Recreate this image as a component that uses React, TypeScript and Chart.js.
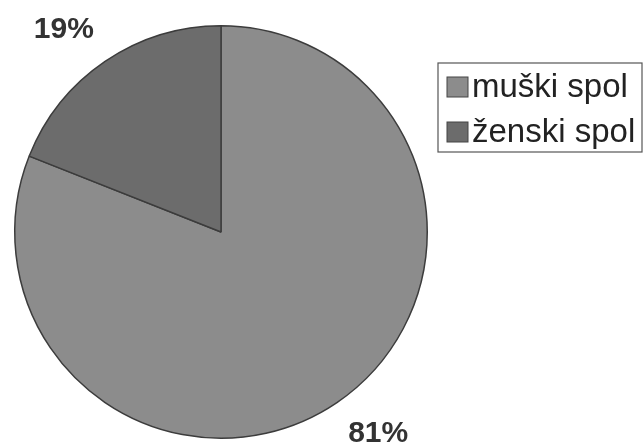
import React, { useEffect, useRef } from "react";
import { Chart, registerables } from "chart.js";

Chart.register(...registerables);

const categories = ["muški spol", "ženski spol"];
const shares = [81, 19];
const valueLabels = ["81%", "19%"];
const sliceColors = ["#8c8c8c", "#6c6c6c"];

const FONT = "'Liberation Sans', Arial, sans-serif";

const decorations = {
  id: "decorations",
  afterDraw(chart: any) {
    const ctx = chart.ctx as CanvasRenderingContext2D;
    const meta = chart.getDatasetMeta(0);
    // percentage labels outside the slices
    ctx.save();
    ctx.fillStyle = "#333";
    ctx.font = `bold 30px ${FONT}`;
    meta.data.forEach((arc: any, i: number) => {
      const mid = (arc.startAngle + arc.endAngle) / 2;
      const r = arc.outerRadius + 20;
      const c = Math.cos(mid);
      const s = Math.sin(mid);
      const x = arc.x + c * r;
      const y = arc.y + s * r;
      ctx.textAlign = c >= 0 ? "left" : "right";
      ctx.textBaseline = s >= 0 ? "top" : "bottom";
      ctx.fillText(valueLabels[i], x, y);
    });
    ctx.restore();

    // legend with border
    const lx = 438;
    const ly = 63;
    const lw = 204;
    const lh = 89;
    ctx.save();
    ctx.strokeStyle = "#555";
    ctx.lineWidth = 1.2;
    ctx.strokeRect(lx, ly, lw, lh);
    ctx.font = `33px ${FONT}`;
    ctx.textAlign = "left";
    ctx.textBaseline = "alphabetic";
    categories.forEach((name, i) => {
      const by = ly + 14 + i * 45;
      ctx.fillStyle = sliceColors[i];
      ctx.fillRect(lx + 9, by, 21, 20);
      ctx.strokeStyle = "#444";
      ctx.lineWidth = 1;
      ctx.strokeRect(lx + 9, by, 21, 20);
      ctx.fillStyle = "#222";
      ctx.fillText(name, lx + 34, by + 20);
    });
    ctx.restore();
  },
};

export default function App() {
  const ref = useRef<HTMLCanvasElement>(null);
  useEffect(() => {
    document.body.style.margin = "0";
    const chart = new Chart(ref.current!, {
      type: "pie",
      data: {
        labels: categories,
        datasets: [
          {
            data: shares,
            backgroundColor: sliceColors,
            borderColor: "#3c3c3c",
            borderWidth: 1.5,
          },
        ],
      },
      options: {
        responsive: false,
        animation: false,
        layout: { padding: { left: 14, top: 25, right: 216, bottom: 6 } },
        plugins: {
          legend: { display: false },
          tooltip: { enabled: false },
        },
      },
      plugins: [decorations],
    });
    return () => chart.destroy();
  }, []);
  return (
    <div style={{ position: "absolute", left: 0, top: 0, width: 644, height: 445, background: "#fff" }}>
      <canvas ref={ref} width={644} height={445} />
    </div>
  );
}
